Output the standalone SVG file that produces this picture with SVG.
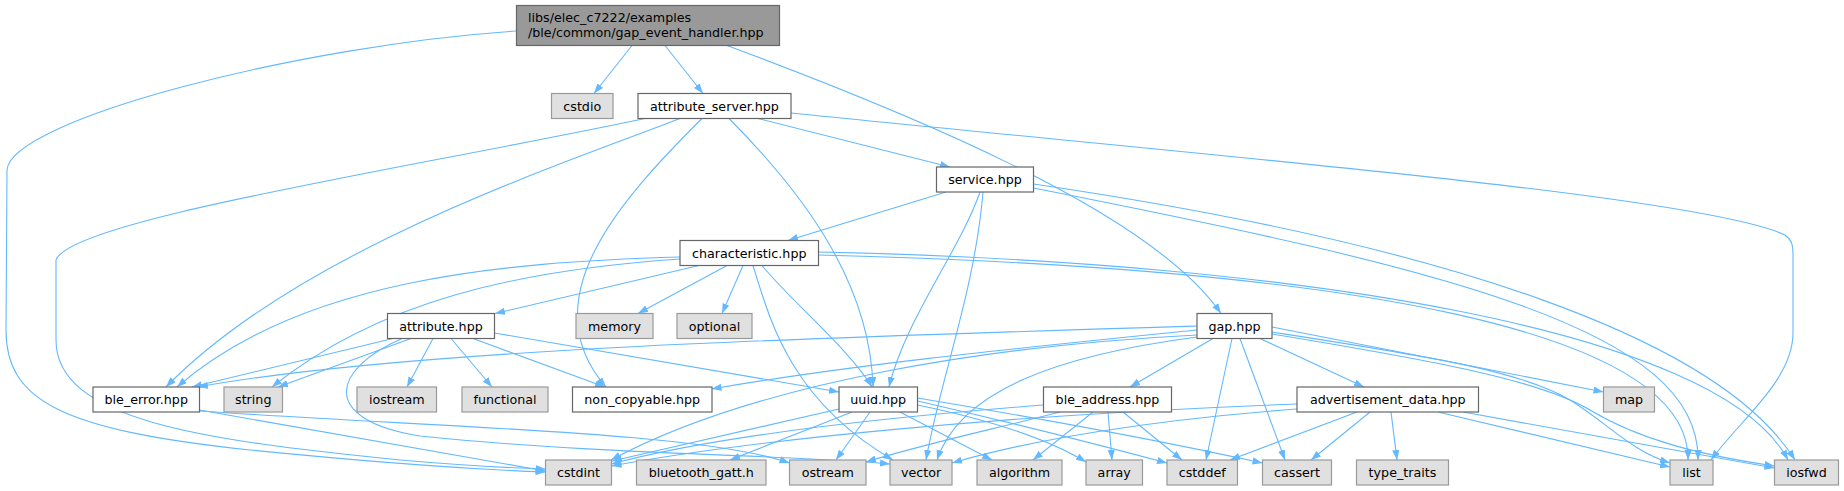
<svg xmlns="http://www.w3.org/2000/svg" width="1844" height="491" viewBox="0 0 1844 491">
<style>
.bg{fill:#ffffff}
.edges path{fill:none;stroke:#63b8ff;stroke-width:1.1;marker-end:url(#ah)}
.n rect{fill:#ffffff;stroke:#666666;stroke-width:1.2}
.x rect{fill:#e0e0e0;stroke:#999999;stroke-width:1.2}
.r rect{fill:#999999;stroke:#666666;stroke-width:1.2}
text{font-family:"DejaVu Sans","Liberation Sans",sans-serif;font-size:12.7px;fill:#000000}
.c{text-anchor:middle}
</style>
<defs>
<marker id="ah" markerUnits="userSpaceOnUse" markerWidth="10" markerHeight="8" refX="10" refY="3.6" orient="auto">
<path d="M0,0 L10,3.6 L0,7.2 z" fill="#63b8ff"/>
</marker>
</defs>
<rect class="bg" x="0" y="0" width="1844" height="491"/>
<g id="connectors" class="edges">
<path d="M632,45.5 L594,93.5"/>
<path d="M665,45.5 L703,93.5"/>
<path d="M727,45.5 C900,110 1150,210 1221,313.5"/>
<path d="M516.5,31 C300,45 10,120 7,170 L6,330 C6,400 60,430 250,450 C400,465 490,470 545.5,472"/>
<path d="M645,118.5 C400,170 70,220 56,260 L56,340 C56,420 200,440 400,460 C470,466 510,468 545.5,469"/>
<path d="M680,118.5 C560,165 300,250 166,387"/>
<path d="M702,118.5 C620,200 530,300 606,387"/>
<path d="M729,118.5 C800,190 870,280 873,387"/>
<path d="M758,118.5 L950,167"/>
<path d="M791,113 C1200,155 1700,195 1785,235 C1792,240 1793,245 1793,255 L1793,333 C1793,380 1740,420 1711,460"/>
<path d="M946,192 L788,240.5"/>
<path d="M980,192 C960,250 905,320 889,387"/>
<path d="M983,192 C975,290 940,380 926,460"/>
<path d="M1033.5,188 C1450,270 1700,330 1698,460"/>
<path d="M1033.5,184 C1450,245 1720,340 1795,460"/>
<path d="M699,265.5 L495,313.5"/>
<path d="M727,265.5 L638,313.5"/>
<path d="M743,265.5 L722,313.5"/>
<path d="M753,265.5 C770,320 790,400 893,460"/>
<path d="M762,265.5 C790,300 850,350 872,387"/>
<path d="M680,257 C500,262 300,280 177,387"/>
<path d="M680,259 C520,270 380,300 272,387"/>
<path d="M818.5,255 C1350,268 1690,330 1688,460"/>
<path d="M818.5,252 C1300,262 1720,330 1788,460"/>
<path d="M393,338.5 L192,387"/>
<path d="M411,338.5 L278,387"/>
<path d="M433,338.5 L407,387"/>
<path d="M451,338.5 L492,387"/>
<path d="M473,338.5 L605,387"/>
<path d="M494.5,333 L839,392"/>
<path d="M402,338.5 C330,370 320,420 420,436 C600,455 800,455 890,464"/>
<path d="M1197,326 C800,338 400,350 198,387"/>
<path d="M1197,330 C1000,350 850,365 711.5,389"/>
<path d="M1197,335 C1000,345 760,380 611,460"/>
<path d="M1197,337 C1060,355 960,390 937,460"/>
<path d="M1213,338.5 L1130,387"/>
<path d="M1260,338.5 L1364,387"/>
<path d="M1232,338.5 L1206,460"/>
<path d="M1240,338.5 L1285,460"/>
<path d="M1272,327 L1603.5,392"/>
<path d="M1272,332 C1420,355 1520,370 1570,400 C1610,425 1630,450 1670,463"/>
<path d="M1272,334 C1430,360 1540,380 1590,410 C1640,440 1700,455 1774.5,466"/>
<path d="M199.5,410 L545.5,471"/>
<path d="M199.5,411 C450,428 700,432 789.5,463"/>
<path d="M839,409 L612,461"/>
<path d="M852,412 L730,460"/>
<path d="M870,412 L836,460"/>
<path d="M900,412 L992,460"/>
<path d="M917.5,405 C990,420 1050,440 1086,462"/>
<path d="M917.5,401 C1000,420 1100,445 1167,463"/>
<path d="M917.5,398 C1050,420 1180,445 1262.5,463"/>
<path d="M1043.5,405 C850,420 700,440 611.5,464"/>
<path d="M1060,412 C990,430 920,445 866,462"/>
<path d="M1093,412 L1033,460"/>
<path d="M1108,412 L1112,460"/>
<path d="M1123,412 L1182,460"/>
<path d="M1297,404 C1000,415 750,440 611.5,466"/>
<path d="M1297,409 C1150,420 1030,440 952,463"/>
<path d="M1357,412 L1230,460"/>
<path d="M1370,412 L1311,460"/>
<path d="M1391,412 L1397,460"/>
<path d="M1438,412 L1670,467"/>
<path d="M1463,412 L1774.5,468"/>
</g>
<g id="node-root" class="r"><rect x="516.5" y="5.5" width="263" height="40"/><text x="528" y="21.5">libs/elec_c7222/examples</text><text x="528" y="37">/ble/common/gap_event_handler.hpp</text></g>
<g id="node-cstdio" class="x"><rect x="551.5" y="93.5" width="61.5" height="25"/><text class="c" x="582.25" y="110.5">cstdio</text></g>
<g id="node-attribute_server" class="n"><rect x="638" y="93.5" width="153" height="25"/><text class="c" x="714.5" y="110.5">attribute_server.hpp</text></g>
<g id="node-service" class="n"><rect x="936.5" y="167" width="97" height="25"/><text class="c" x="985" y="184">service.hpp</text></g>
<g id="node-characteristic" class="n"><rect x="680" y="240.5" width="138.5" height="25"/><text class="c" x="749.25" y="257.5">characteristic.hpp</text></g>
<g id="node-attribute" class="n"><rect x="387.5" y="313.5" width="107" height="25"/><text class="c" x="441" y="330.5">attribute.hpp</text></g>
<g id="node-memory" class="x"><rect x="576" y="313.5" width="77" height="25"/><text class="c" x="614.5" y="330.5">memory</text></g>
<g id="node-optional" class="x"><rect x="677" y="313.5" width="75" height="25"/><text class="c" x="714.5" y="330.5">optional</text></g>
<g id="node-gap" class="n"><rect x="1197" y="313.5" width="75" height="25"/><text class="c" x="1234.5" y="330.5">gap.hpp</text></g>
<g id="node-ble_error" class="n"><rect x="93" y="387" width="106.5" height="25"/><text class="c" x="146.25" y="404">ble_error.hpp</text></g>
<g id="node-string" class="x"><rect x="224" y="387" width="58.5" height="25"/><text class="c" x="253.25" y="404">string</text></g>
<g id="node-iostream" class="x"><rect x="357" y="387" width="79.5" height="25"/><text class="c" x="396.75" y="404">iostream</text></g>
<g id="node-functional" class="x"><rect x="462" y="387" width="86" height="25"/><text class="c" x="505" y="404">functional</text></g>
<g id="node-non_copyable" class="n"><rect x="572.5" y="387" width="139.5" height="25"/><text class="c" x="642.25" y="404">non_copyable.hpp</text></g>
<g id="node-uuid" class="n"><rect x="839" y="387" width="78.5" height="25"/><text class="c" x="878.25" y="404">uuid.hpp</text></g>
<g id="node-ble_address" class="n"><rect x="1043.5" y="387" width="128" height="25"/><text class="c" x="1107.5" y="404">ble_address.hpp</text></g>
<g id="node-advertisement_data" class="n"><rect x="1297" y="387" width="181.5" height="25"/><text class="c" x="1387.75" y="404">advertisement_data.hpp</text></g>
<g id="node-map" class="x"><rect x="1603.5" y="387" width="51" height="25"/><text class="c" x="1629" y="404">map</text></g>
<g id="node-cstdint" class="x"><rect x="545.5" y="460" width="66" height="25"/><text class="c" x="578.5" y="477">cstdint</text></g>
<g id="node-bluetooth_gatt" class="x"><rect x="636.5" y="460" width="129.5" height="25"/><text class="c" x="701.25" y="477">bluetooth_gatt.h</text></g>
<g id="node-ostream" class="x"><rect x="789.5" y="460" width="76.5" height="25"/><text class="c" x="827.75" y="477">ostream</text></g>
<g id="node-vector" class="x"><rect x="890" y="460" width="62" height="25"/><text class="c" x="921" y="477">vector</text></g>
<g id="node-algorithm" class="x"><rect x="977" y="460" width="85" height="25"/><text class="c" x="1019.5" y="477">algorithm</text></g>
<g id="node-array" class="x"><rect x="1086" y="460" width="56.5" height="25"/><text class="c" x="1114.25" y="477">array</text></g>
<g id="node-cstddef" class="x"><rect x="1167" y="460" width="70.5" height="25"/><text class="c" x="1202.25" y="477">cstddef</text></g>
<g id="node-cassert" class="x"><rect x="1262.5" y="460" width="69" height="25"/><text class="c" x="1297" y="477">cassert</text></g>
<g id="node-type_traits" class="x"><rect x="1356.5" y="460" width="92" height="25"/><text class="c" x="1402.5" y="477">type_traits</text></g>
<g id="node-list" class="x"><rect x="1670" y="460" width="43" height="25"/><text class="c" x="1691.5" y="477">list</text></g>
<g id="node-iosfwd" class="x"><rect x="1774.5" y="460" width="64" height="25"/><text class="c" x="1806.5" y="477">iosfwd</text></g>
</svg>
